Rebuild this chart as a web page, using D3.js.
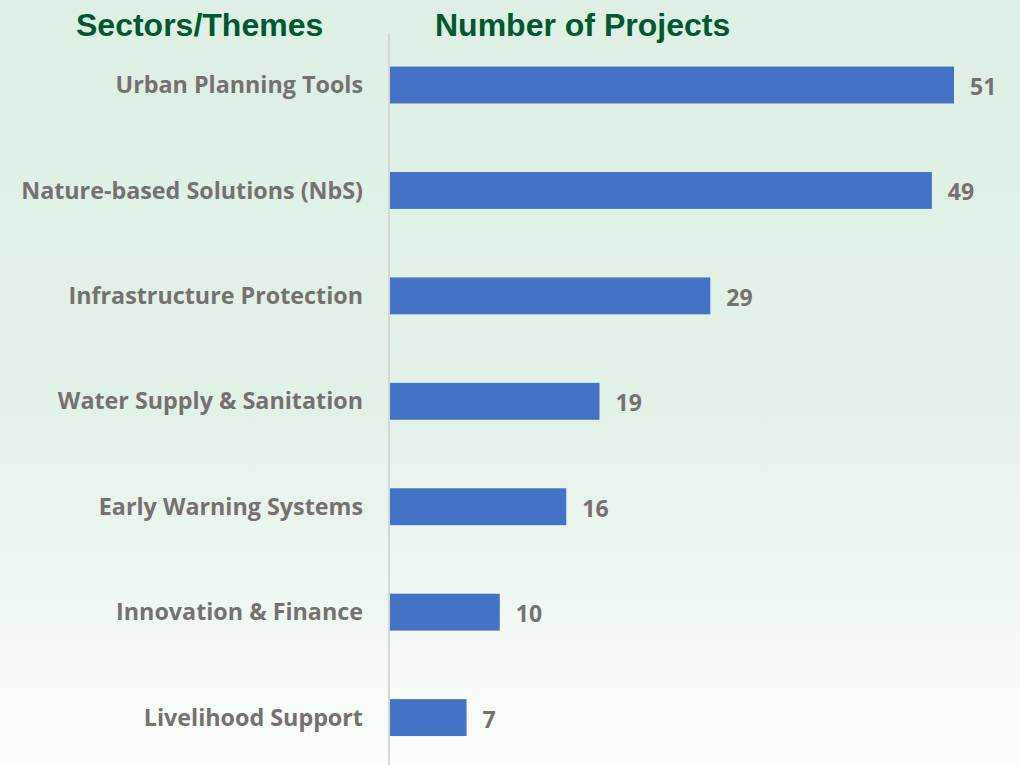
<!DOCTYPE html>
<html>
<head>
<meta charset="utf-8">
<script src="https://cdn.jsdelivr.net/npm/d3@7"></script>
<style>
  body { margin: 0; padding: 0; }
  svg { display: block; }
</style>
</head>
<body>
<svg id="chart"></svg>
<script>
// data
var sectors = ["Urban Planning Tools", "Nature-based Solutions (NbS)", "Infrastructure Protection",
    "Water Supply & Sanitation", "Early Warning Systems", "Innovation & Finance", "Livelihood Support"];
var projects = [51, 49, 29, 19, 16, 10, 7];

const W = 1020, H = 765;
const AXIS_X = 389;
const LABEL_COLOUR = "#767171";
const HEAD_COLOUR = "#00582F";
const BAR_COLOUR = "#4472C4";

var svg = d3.select("#chart").attr("width", W).attr("height", H);

// background gradient
var grad = svg.append("defs").append("linearGradient")
    .attr("id", "bg").attr("x1", 0).attr("y1", 0).attr("x2", 0).attr("y2", 1);
grad.append("stop").attr("offset", "0%").attr("stop-color", "#ddf0e3");
grad.append("stop").attr("offset", "55%").attr("stop-color", "#e3f2e7");
grad.append("stop").attr("offset", "100%").attr("stop-color", "#fbfdfb");
svg.append("rect").attr("width", W).attr("height", H).attr("fill", "url(#bg)");

var data = sectors.map(function (s, i) { return { sector: s, value: projects[i] }; });

var x = d3.scaleLinear().domain([0, 51]).range([AXIS_X, 954]);
var y = d3.scaleBand().domain(sectors).range([32.3, 770.3]).paddingInner(0.65).paddingOuter(0.325);

// headers
svg.append("text").text("Sectors/Themes")
    .attr("x", 76).attr("y", 36)
    .style("font-family", "Liberation Sans, Arial, sans-serif")
    .style("font-weight", "700").style("font-size", "32px")
    .style("fill", HEAD_COLOUR);
svg.append("text").text("Number of Projects")
    .attr("x", 435).attr("y", 36)
    .style("font-family", "Liberation Sans, Arial, sans-serif")
    .style("font-weight", "700").style("font-size", "32px")
    .style("fill", HEAD_COLOUR);

// bars
svg.selectAll("rect.bar")
    .data(data)
    .enter()
    .append("rect")
    .attr("class", "bar")
    .attr("x", x(0))
    .attr("y", function (d) { return y(d.sector); })
    .attr("width", function (d) { return x(d.value) - x(0); })
    .attr("height", y.bandwidth())
    .attr("fill", BAR_COLOUR);

// axis line
svg.append("line")
    .attr("x1", AXIS_X).attr("x2", AXIS_X)
    .attr("y1", 33).attr("y2", H)
    .attr("stroke", "#d6d6d6").attr("stroke-width", 2);

// category labels
svg.selectAll("text.cat")
    .data(data)
    .enter()
    .append("text")
    .attr("class", "cat")
    .text(function (d) { return d.sector; })
    .attr("x", 363)
    .attr("y", function (d) { return y(d.sector) + y.bandwidth() / 2; })
    .attr("dy", "0.35em")
    .style("text-anchor", "end")
    .style("font-family", "Open Sans, sans-serif")
    .style("font-weight", "700").style("font-size", "23.3px")
    .style("fill", LABEL_COLOUR);

// value labels
svg.selectAll("text.val")
    .data(data)
    .enter()
    .append("text")
    .attr("class", "val")
    .text(function (d) { return d.value; })
    .attr("x", function (d) { return x(d.value) + 16; })
    .attr("y", function (d) { return y(d.sector) + y.bandwidth() / 2 + 2; })
    .attr("dy", "0.35em")
    .style("font-family", "Open Sans, sans-serif")
    .style("font-weight", "700").style("font-size", "23px")
    .style("fill", LABEL_COLOUR);
</script>
</body>
</html>
